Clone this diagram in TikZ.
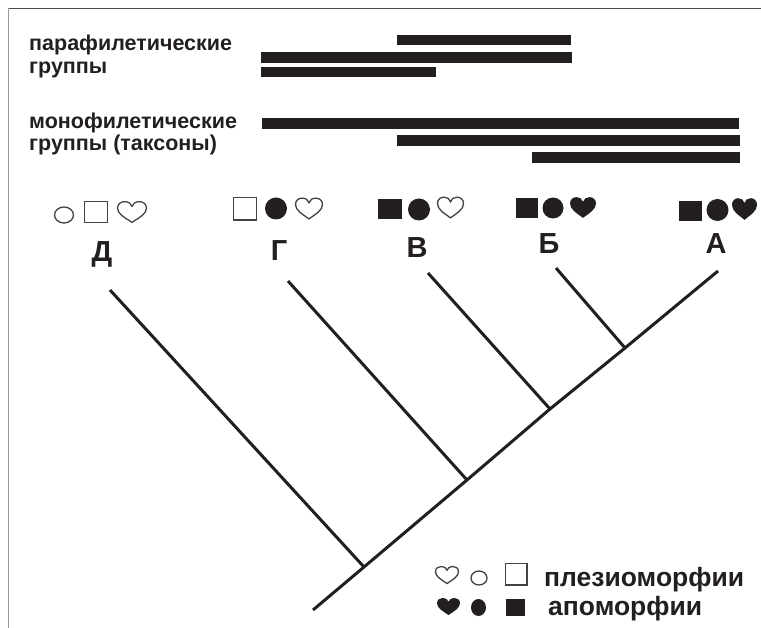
\documentclass[tikz,border=0pt]{standalone}
\usepackage{fontspec}
\setmainfont{Liberation Sans}
\definecolor{ink}{HTML}{231F20}
\tikzset{
  heartshape/.pic={
    \path[pic actions] (0,0.9) .. controls (-0.55,0.45) and (-1,0.15) .. (-1,-0.35)
      .. controls (-1,-0.72) and (-0.75,-0.9) .. (-0.5,-0.9)
      .. controls (-0.25,-0.9) and (-0.06,-0.75) .. (0,-0.5)
      .. controls (0.06,-0.75) and (0.25,-0.9) .. (0.5,-0.9)
      .. controls (0.75,-0.9) and (1,-0.72) .. (1,-0.35)
      .. controls (1,0.15) and (0.55,0.45) .. (0,0.9) -- cycle;
  },
  openshape/.style={draw=ink!85, line width=1.3pt, fill=white},
  fullshape/.style={fill=ink},
  bar/.style={fill=ink},
  branch/.style={draw=ink, line width=3pt},
  grouplabel/.style={anchor=base west, inner sep=0pt, font=\bfseries\fontsize{21.5}{23}\selectfont, text=ink},
  taxon/.style={anchor=base, inner sep=0pt, font=\bfseries\fontsize{29}{31}\selectfont, text=ink},
  legendtext/.style={anchor=base west, inner sep=0pt, font=\bfseries\fontsize{26.5}{28}\selectfont, text=ink},
}
\begin{document}
\begin{tikzpicture}[x=1pt,y=-1pt]
\useasboundingbox (0,0) rectangle (761,628);
% frame
\draw[ink!80, line width=1.5pt] (7.5,8.5) -- (761,8.5);
\draw[ink!45, line width=1pt] (8,8.5) -- (8,628);

% group labels
\node[grouplabel] (para1) at (29,51) {парафилетические};
\node[grouplabel] (para2) at (29,73.5) {группы};
\node[grouplabel] (mono1) at (29,128.5) {монофилетические};
\node[grouplabel] (mono2) at (29,151) {группы (таксоны)};

% bars
\fill[bar] (397,35) rectangle (571,45.5);
\fill[bar] (261,52) rectangle (572,63);
\fill[bar] (261,67) rectangle (436,77.5);
\fill[bar] (262,118) rectangle (739,129);
\fill[bar] (397,135) rectangle (740,146);
\fill[bar] (532,152) rectangle (740,163);

% character states: Д
\draw[openshape] (64,215) ellipse [x radius=9.5, y radius=8];
\draw[openshape] (84.5,201.5) rectangle (107.5,222.5);
\pic[openshape, xscale=14.5, yscale=11.5] at (132,212) {heartshape};
% Г
\draw[openshape] (233.5,197.5) rectangle (256.5,220);
\fill[fullshape] (276,208.5) circle [radius=11];
\pic[openshape, xscale=13.5, yscale=11.5] at (309,208.5) {heartshape};
% В
\fill[fullshape] (378,199.5) rectangle (401.5,219.5);
\fill[fullshape] (419,209.5) circle [radius=11];
\pic[openshape, xscale=13, yscale=11.5] at (450.5,207.5) {heartshape};
% Б
\fill[fullshape] (516,198) rectangle (537.5,218);
\fill[fullshape] (553,208) circle [radius=10.5];
\pic[fullshape, xscale=13, yscale=11.5] at (583,207.5) {heartshape};
% А
\fill[fullshape] (679,201) rectangle (702,221);
\fill[fullshape] (717.5,210) circle [radius=11];
\pic[fullshape, xscale=12.5, yscale=12] at (744.5,209) {heartshape};

% taxon letters
\node[taxon] (tD) at (102,262) {Д};
\node[taxon] (tG) at (279,261) {Г};
\node[taxon] (tV) at (417,258) {В};
\node[taxon] (tB) at (549,254) {Б};
\node[taxon] (tA) at (716,254) {А};

% tree
\coordinate (root) at (313,610);
\coordinate (j1) at (364,567);
\coordinate (j2) at (467,480);
\coordinate (j3) at (550,409);
\coordinate (j4) at (625,348);
\coordinate (pA) at (718,271);
\coordinate (pD) at (110,290);
\coordinate (pG) at (288,281);
\coordinate (pV) at (428,273);
\coordinate (pB) at (556,268);
\draw[branch] (root) -- (j1) -- (j2) -- (j3) -- (j4) -- (pA);
\draw[branch] (pD) -- (j1);
\draw[branch] (pG) -- (j2);
\draw[branch] (pV) -- (j3);
\draw[branch] (pB) -- (j4);

% legend
\pic[openshape, xscale=11.5, yscale=9.5] at (447,575) {heartshape};
\draw[openshape] (479,578) ellipse [x radius=8, y radius=7];
\draw[openshape] (505.5,563.5) rectangle (527,585);
\node[legendtext] (plesio) at (544,586) {плезиоморфии};
\pic[fullshape, xscale=11.5, yscale=9.5] at (448.5,606.5) {heartshape};
\fill[fullshape] (478.5,607.5) ellipse [x radius=7.5, y radius=8.5];
\fill[fullshape] (506,599) rectangle (525,615.5);
\node[legendtext] (apo) at (548,615) {апоморфии};
\end{tikzpicture}
\end{document}
